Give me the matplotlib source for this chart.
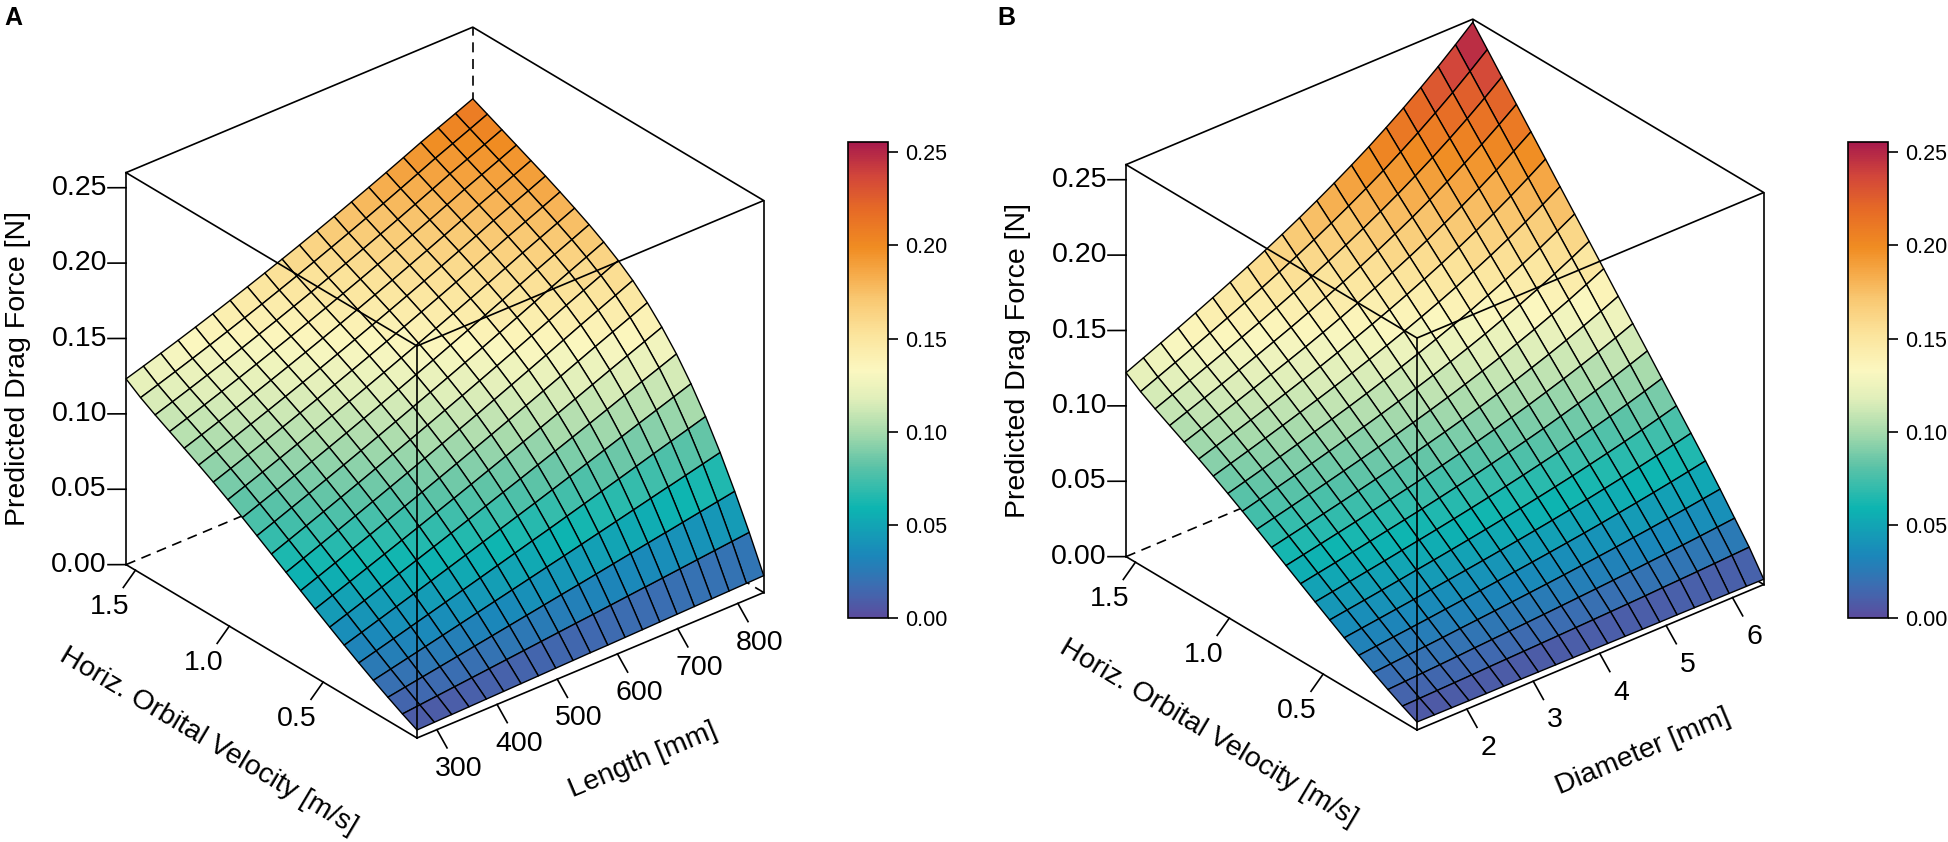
import numpy as np
import matplotlib
matplotlib.use("Agg")
import matplotlib.pyplot as plt
from matplotlib.colors import LinearSegmentedColormap, Normalize
from matplotlib.cm import ScalarMappable
from mpl_toolkits.mplot3d import proj3d

plt.rcParams['font.family'] = ['Liberation Sans', 'DejaVu Sans']

# --- axis ranges and ticks ---
VEL_LIM = (0.0, 1.55)
LEN_LIM = (267.0, 843.0)
DIAM_LIM = (1.25, 6.47)
Z_TOP = 0.26
C_MAX = 0.2555

vel_ticks = [0.5, 1.0, 1.5]
len_ticks = [300, 400, 500, 600, 700, 800]
diam_ticks = [2, 3, 4, 5, 6]
z_ticks = [0.00, 0.05, 0.10, 0.15, 0.20, 0.25]

# --- edge profiles of the predicted surfaces, 21 mesh nodes each ---
# panel A: along velocity at shortest / longest length
force_A_short = [0.0053, 0.0102, 0.0155, 0.0210, 0.0268, 0.0328, 0.0390,
                 0.0453, 0.0517, 0.0581, 0.0645, 0.0709, 0.0772, 0.0833,
                 0.0892, 0.0948, 0.1002, 0.1055, 0.1108, 0.1165, 0.1232]
force_A_long = [0.0112, 0.0342, 0.0557, 0.0757, 0.0937, 0.1097, 0.1237,
                0.1357, 0.1462, 0.1552, 0.1627, 0.1692, 0.1750, 0.1802,
                0.1852, 0.1900, 0.1945, 0.1990, 0.2035, 0.2080, 0.2125]
# panel A: along length at slowest / fastest velocity
force_A_slow = [0.0053, 0.0056, 0.0059, 0.0062, 0.0065, 0.0068, 0.0071,
                0.0074, 0.0077, 0.0080, 0.0083, 0.0085, 0.0088, 0.0091,
                0.0094, 0.0097, 0.0100, 0.0103, 0.0106, 0.0109, 0.0112]
force_A_fast = [0.1232, 0.1268, 0.1305, 0.1343, 0.1382, 0.1422, 0.1463,
                0.1505, 0.1548, 0.1592, 0.1637, 0.1683, 0.1730, 0.1778,
                0.1827, 0.1877, 0.1928, 0.1980, 0.2028, 0.2076, 0.2125]

# panel B: along velocity at thinnest / thickest diameter
force_B_thin = [0.0053, 0.0101, 0.0153, 0.0208, 0.0265, 0.0324, 0.0385,
                0.0447, 0.0510, 0.0573, 0.0636, 0.0699, 0.0761, 0.0821,
                0.0879, 0.0935, 0.0989, 0.1042, 0.1095, 0.1152, 0.1220]
force_B_thick = [0.0035, 0.0190, 0.0325, 0.0460, 0.0590, 0.0716, 0.0840,
                 0.0964, 0.1089, 0.1213, 0.1337, 0.1462, 0.1586, 0.1710,
                 0.1834, 0.1959, 0.2083, 0.2207, 0.2331, 0.2456, 0.2580]
# panel B: along diameter at slowest / fastest velocity
force_B_slow = [0.0053, 0.0052, 0.0051, 0.0050, 0.0049, 0.0049, 0.0048,
                0.0047, 0.0046, 0.0045, 0.0044, 0.0043, 0.0042, 0.0041,
                0.0040, 0.0040, 0.0039, 0.0038, 0.0037, 0.0036, 0.0035]
force_B_fast = [0.1220, 0.1270, 0.1320, 0.1371, 0.1423, 0.1476, 0.1530,
                0.1585, 0.1643, 0.1703, 0.1765, 0.1830, 0.1898, 0.1969,
                0.2043, 0.2122, 0.2204, 0.2291, 0.2382, 0.2479, 0.2580]

cmap_stops = [0.00, 0.06, 0.13, 0.23, 0.32, 0.39, 0.46, 0.52,
              0.60, 0.67, 0.73, 0.78, 0.86, 0.93, 1.00]
cmap_colors = ['#5B4C9E', '#3F6AB0', '#1B87BA', '#0DB5B1', '#5EC3A7',
               '#A6DAAC', '#E0EFBA', '#FBF7C0', '#FBE39A', '#F9C872',
               '#F5A745', '#F08C22', '#E66A26', '#D2463A', '#A81B4C']
cmap = LinearSegmentedColormap.from_list("spectral", list(zip(cmap_stops, cmap_colors)))
norm = Normalize(0, C_MAX)

W, H = 1949, 842
fig = plt.figure(figsize=(W / 100, H / 100), dpi=100)
TICK_FS = 20.5


def surface_from_edges(a_u, b_u, c_w, d_w):
    # blend the four read edge profiles over the mesh (Coons patch)
    a, b, c, d = (np.asarray(p, float) for p in (a_u, b_u, c_w, d_w))
    u = np.linspace(0, 1, len(a))[:, None]
    w = np.linspace(0, 1, len(c))[None, :]
    z = (1 - w) * a[:, None] + w * b[:, None] + (1 - u) * c[None, :] + u * d[None, :]
    z -= ((1 - u) * (1 - w) * a[0] + u * (1 - w) * a[-1]
          + (1 - u) * w * b[0] + u * w * b[-1])
    return z


def to_px(ax, pts):
    pts = np.atleast_2d(np.asarray(pts, float))
    px, py, _ = proj3d.proj_transform(pts[:, 0], pts[:, 1], pts[:, 2], ax.get_proj())
    return ax.transData.transform(np.column_stack([px, py]))


def fit_position(ax, xlim, bf_px, edge_px):
    # place the 3D axes so that the box's front-bottom corner and height match
    for _ in range(3):
        fig.canvas.draw()
        pts = to_px(ax, [[xlim[0], VEL_LIM[0], 0.0], [xlim[0], VEL_LIM[0], Z_TOP]])
        s = edge_px / (pts[1, 1] - pts[0, 1])
        pos = ax.get_position(original=True)
        side = pos.width * W
        c = np.array([(pos.x0 + pos.width / 2) * W, (pos.y0 + pos.height / 2) * H])
        new_side = side * s
        new_c = np.array(bf_px) - s * (pts[0] - c)
        ax.set_position([(new_c[0] - new_side / 2) / W, (new_c[1] - new_side / 2) / H,
                         new_side / W, new_side / H])
    fig.canvas.draw()


def screen_angle(ax, p, d):
    a, b = to_px(ax, [p, np.asarray(p) + np.asarray(d)])
    ang = np.degrees(np.arctan2(b[1] - a[1], b[0] - a[0]))
    ang = (ang + 180) % 180
    return ang - 180 if ang > 90 else ang


def draw_panel(xlim, xticks, xlabel, edges, bf_px, cbar_rect, letter, letter_x):
    ax = fig.add_axes([0.1, 0.1, 0.3, 0.3 * W / H], projection='3d')
    ax.set_proj_type('ortho')
    ax.view_init(elev=30, azim=-130)
    ax.set_box_aspect((1, 1, 1))
    ax.set_axis_off()
    ax.patch.set_visible(False)
    ax.computed_zorder = False
    ax.set_xlim(*xlim)
    ax.set_ylim(*VEL_LIM)
    ax.set_zlim(0, Z_TOP)

    z = surface_from_edges(*edges)
    nu, nw = z.shape
    vel = np.linspace(*VEL_LIM, nu)
    xs = np.linspace(*xlim, nw)
    V, X = np.meshgrid(vel, xs, indexing='ij')
    zc = (z[:-1, :-1] + z[1:, :-1] + z[:-1, 1:] + z[1:, 1:]) / 4
    zc = np.pad(zc, ((0, 1), (0, 1)), mode='edge')
    ax.plot_surface(X, V, z, facecolors=cmap(norm(zc)), edgecolor='black',
                    linewidth=1.0, shade=False, rstride=1, cstride=1, zorder=2)

    x0, x1 = xlim
    v0, v1 = VEL_LIM
    dx, dv, dz = x1 - x0, v1 - v0, Z_TOP
    solid = dict(color='black', lw=1.2, zorder=3, clip_on=False)
    dashed = dict(color='black', lw=1.2, zorder=1, ls=(0, (6, 4)), clip_on=False)
    # back (hidden) edges
    ax.plot([x1, x1], [v1, v1], [0, Z_TOP], **dashed)
    ax.plot([x0, x1], [v1, v1], [0, 0], **dashed)
    ax.plot([x1, x1], [v0, v1], [0, 0], **dashed)
    # top face
    ax.plot([x0, x1, x1, x0, x0], [v1, v1, v0, v0, v1], [Z_TOP] * 5, **solid)
    # verticals
    for xx, vv in ((x0, v1), (x1, v0), (x0, v0)):
        ax.plot([xx, xx], [vv, vv], [0, Z_TOP], **solid)
    # front bottom edges
    ax.plot([x0, x0], [v1, v0], [0, 0], **solid)
    ax.plot([x0, x1], [v0, v0], [0, 0], **solid)

    labels = []   # (3D anchor, text, direction for rotation or None)

    # z axis on the left vertical edge
    tz = np.array([-0.0306 * dx, 0.0255 * dv, 0.0])
    for t in z_ticks:
        b = np.array([x0, v1, t])
        e = b + tz
        ax.plot([b[0], e[0]], [b[1], e[1]], [b[2], e[2]], **solid)
        labels.append((b + 2.6 * tz, f"{t:.2f}", None))
    labels.append((np.array([x0, v1, Z_TOP / 2]) + 6.0 * tz,
                   "Predicted Drag Force [N]", (0, 0, 1)))

    # velocity axis
    tv = np.array([-0.035 * dx, 0.0, -0.031 * dz])
    for t in vel_ticks:
        b = np.array([x0, t, 0.0])
        e = b + tv
        ax.plot([b[0], e[0]], [b[1], e[1]], [b[2], e[2]], **solid)
        labels.append((b + 2.15 * tv, f"{t:.1f}", None))
    labels.append((np.array([x0, (v0 + v1) / 2, 0.0]) + 5.2 * tv,
                   "Horiz. Orbital Velocity [m/s]", (0, 1, 0)))

    # length / diameter axis
    tx = np.array([0.0, -0.035 * dv, -0.031 * dz])
    for t in xticks:
        b = np.array([t, v0, 0.0])
        e = b + tx
        ax.plot([b[0], e[0]], [b[1], e[1]], [b[2], e[2]], **solid)
        labels.append((b + 2.15 * tx, f"{t}", None))
    labels.append((np.array([(x0 + x1) / 2, v0, 0.0]) + 5.2 * tx,
                   xlabel, (1, 0, 0)))

    fit_position(ax, xlim, bf_px, 392)

    for p, s, d in labels:
        q = to_px(ax, p)[0]
        rot = 0 if d is None else screen_angle(ax, p, np.asarray(d, float) * np.array([dx, dv, dz]))
        fig.text(q[0] / W, q[1] / H, s, fontsize=TICK_FS, rotation=rot,
                 rotation_mode='anchor', ha='center', va='center')

    cax = fig.add_axes([cbar_rect[0] / W, 1 - (cbar_rect[1] + cbar_rect[3]) / H,
                        cbar_rect[2] / W, cbar_rect[3] / H])
    cb = fig.colorbar(ScalarMappable(norm=norm, cmap=cmap), cax=cax, ticks=z_ticks)
    cb.ax.set_yticklabels([f"{t:.2f}" for t in z_ticks])
    cb.ax.tick_params(labelsize=15.5, length=7, width=1.2, pad=5)
    cb.outline.set_linewidth(1.2)

    fig.text(letter_x / W, 1 - 6 / H, letter, fontsize=18, fontweight='bold',
             ha='left', va='top')


draw_panel(LEN_LIM, len_ticks, "Length [mm]",
           (force_A_short, force_A_long, force_A_slow, force_A_fast),
           (417, H - 738), (848, 142, 40, 476), "A", 4)
draw_panel(DIAM_LIM, diam_ticks, "Diameter [mm]",
           (force_B_thin, force_B_thick, force_B_slow, force_B_fast),
           (1417, H - 730), (1848, 142, 40, 476), "B", 997)

fig.savefig("out.png", dpi=100)
